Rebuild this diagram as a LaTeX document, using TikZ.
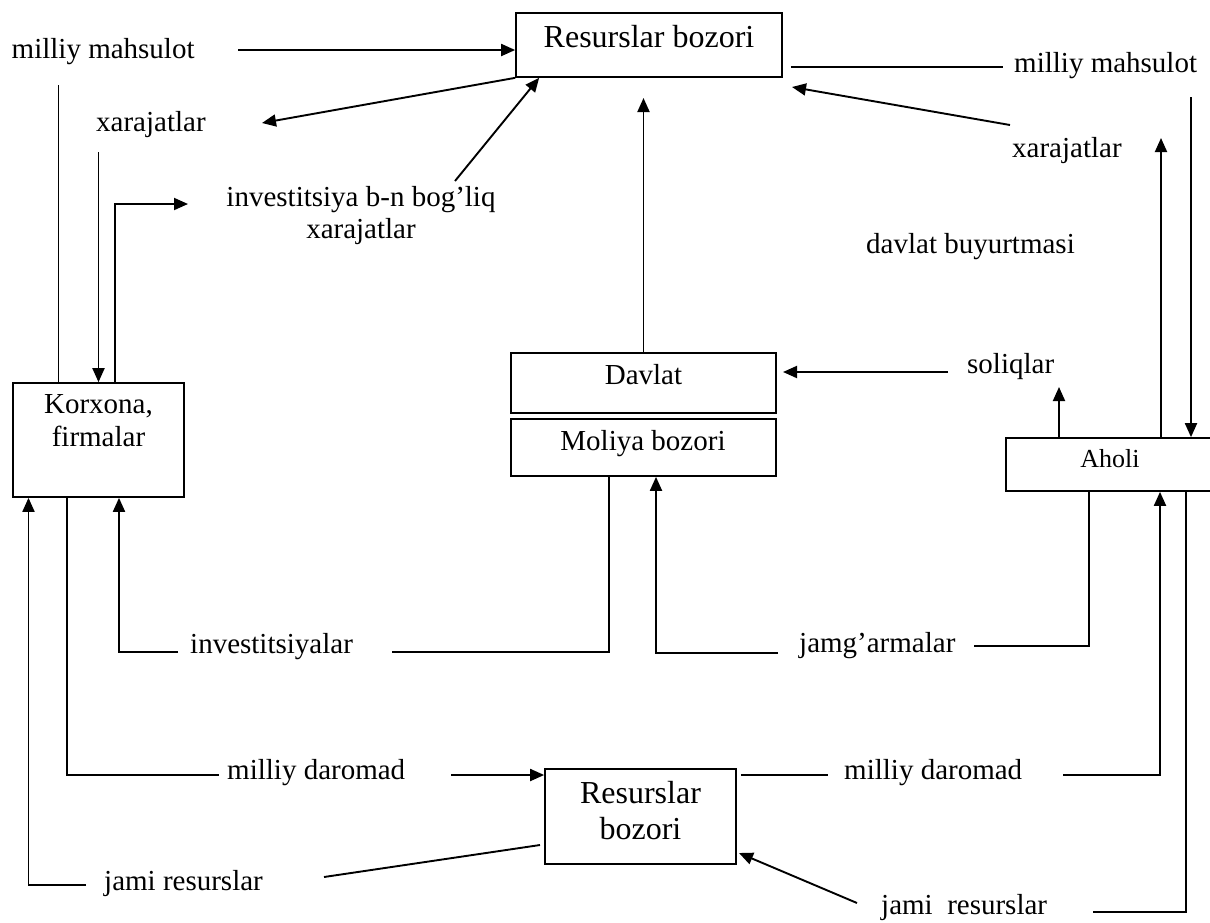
\documentclass[tikz,border=0pt]{standalone}
\usepackage{fontspec}
\setmainfont{Liberation Serif}
\usetikzlibrary{arrows.meta}
\tikzset{
  box/.style={draw, line width=1.7pt, inner sep=0pt},
  lbl/.style={inner sep=0pt, anchor=base west, font=\fontsize{29}{33}\selectfont},
  btxt/.style={inner sep=0pt, anchor=base, font=\fontsize{29}{33}\selectfont},
  ttl/.style={inner sep=0pt, anchor=base, font=\fontsize{32}{36}\selectfont},
  ln/.style={line width=1.9pt},
  arr/.style={ln, -{Triangle[length=14pt,width=12pt]}},
}
\begin{document}
\begin{tikzpicture}[x=1pt,y=-1pt]
\useasboundingbox (0,0) rectangle (1210,922);

% boxes
\node[box, minimum width=266pt, minimum height=64pt] (rb1) at (649,45) {};
\node[ttl] (rb1t) at (649,47) {Resurslar bozori};
\node[box, minimum width=171pt, minimum height=114pt] (kf) at (98.5,440) {};
\node[inner sep=0pt, anchor=north, align=center, font=\fontsize{29}{33}\selectfont] (kft) at (98.5,394.8) {Korxona,\\firmalar};
\node[box, minimum width=265pt, minimum height=60pt] (dv) at (643.5,383) {};
\node[btxt] (dvt) at (643.5,384) {Davlat};
\node[box, minimum width=265pt, minimum height=57pt] (mb) at (643.5,447.5) {};
\node[btxt] (mbt) at (643,450) {Moliya bozori};
\node[box, minimum width=219pt, minimum height=53pt] (ah) at (1115.5,464.5) {};
\node[inner sep=0pt, anchor=base, font=\fontsize{26}{30}\selectfont] (aht) at (1110,467) {Aholi};
\node[box, minimum width=191pt, minimum height=95pt] (rb2) at (640.5,816.5) {};
\node[inner sep=0pt, anchor=north, align=center, font=\fontsize{32}{36}\selectfont] (rb2t) at (640.5,781) {Resurslar\\bozori};

% labels
\node[lbl] (mm1) at (11.5,58) {milliy mahsulot};
\node[lbl] (xl) at (96,131) {xarajatlar};
\node[inner sep=0pt, anchor=north, align=center, font=\fontsize{29}{32}\selectfont] (inv) at (361,186.5) {investitsiya b-n bog’liq\\xarajatlar};
\node[lbl] (mm2) at (1014,72) {milliy mahsulot};
\node[lbl] (xr) at (1012,157) {xarajatlar};
\node[lbl] (db) at (866,253) {davlat buyurtmasi};
\node[lbl] (sol) at (967,373) {soliqlar};
\node[lbl] (invs) at (190,653) {investitsiyalar};
\node[lbl] (jam) at (799,652) {jamg’armalar};
\node[lbl] (md1) at (227,779) {milliy daromad};
\node[lbl] (md2) at (844,779) {milliy daromad};
\node[lbl] (jr1) at (104,890) {jami resurslar};
\node[lbl] (jr2) at (881,914) {jami\ \ resurslar};

% connectors
\coordinate (a1) at (238,50);
\draw[arr] (a1) -- (a1 -| rb1.west);
\coordinate (a2) at (58.5,85);
\draw[ln] (a2) -- (a2 |- kf.north);
\coordinate (a3) at (262,123);
\draw[arr] (rb1.south west) -- (a3);
\coordinate (a4) at (98.5,152);
\draw[arr] (a4) -- (a4 |- kf.north);
\coordinate (a5) at (115,204);
\coordinate (a5e) at (188,204);
\draw[arr] (a5 |- kf.north) -- (a5) -- (a5e);
\coordinate (a6) at (455,181);
\draw[arr] (a6) -- ([xshift=24pt]rb1.south west);
\coordinate (a7) at (643.5,98);
\draw[arr] (dv.north) -- (a7);
\coordinate (a8) at (1003,67);
\draw[ln] (a8 -| rb1.east) ++(8,0) -- (a8);
\coordinate (a9) at (1010,125);
\coordinate (a9e) at (792,87);
\draw[arr] (a9) -- (a9e);
\coordinate (a10) at (1161,138);
\draw[arr] (a10 |- ah.north) -- (a10);
\coordinate (a11) at (1191,97);
\draw[arr] (a11) -- (a11 |- ah.north);
\coordinate (a12) at (1059,387);
\draw[arr] (a12 |- ah.north) -- (a12);
\coordinate (a13) at (948,372);
\coordinate (a13e) at (783,372);
\draw[arr] (a13) -- (a13e);
\coordinate (a14) at (86,885);
\coordinate (a14b) at (28.5,885);
\draw[arr] (a14) -- (a14b) -- (a14b |- kf.south);
\coordinate (a15) at (67,775);
\coordinate (a15e) at (219,775);
\draw[ln] (a15 |- kf.south) -- (a15) -- (a15e);
\coordinate (a16) at (451,775);
\draw[arr] (a16) -- (a16 -| rb2.west);
\coordinate (a17) at (540,845);
\coordinate (a17e) at (324,877);
\draw[ln] (a17) -- (a17e);
\coordinate (a18) at (609,652);
\coordinate (a18e) at (392,652);
\draw[ln] (a18 |- mb.south) -- (a18) -- (a18e);
\coordinate (a18b) at (178,652);
\coordinate (a18c) at (119,652);
\draw[arr] (a18b) -- (a18c) -- (a18c |- kf.south);
\coordinate (a19) at (778,653);
\coordinate (a19b) at (656,653);
\draw[arr] (a19) -- (a19b) -- (a19b |- mb.south);
\coordinate (a20) at (1089,646);
\coordinate (a20e) at (974,646);
\draw[ln] (a20 |- ah.south) -- (a20) -- (a20e);
\coordinate (a21) at (828,775);
\draw[ln] (a21 -| rb2.east) ++(4,0) -- (a21);
\coordinate (a22) at (1063,775);
\coordinate (a22b) at (1160,775);
\draw[arr] (a22) -- (a22b) -- (a22b |- ah.south);
\coordinate (a23) at (1186,912);
\coordinate (a23e) at (1093,912);
\draw[ln] (a23 |- ah.south) -- (a23) -- (a23e);
\coordinate (a24) at (857,903);
\coordinate (a24e) at (739,853);
\draw[arr] (a24) -- (a24e);
\end{tikzpicture}
\end{document}
